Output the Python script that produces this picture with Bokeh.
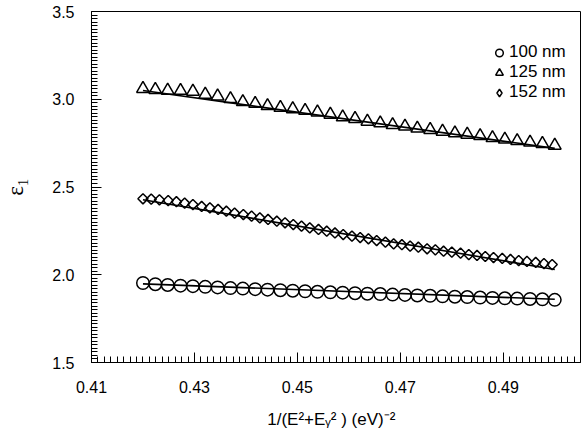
from bokeh.plotting import figure
from bokeh.models import Range1d, FixedTicker, Legend, LegendItem
from bokeh.embed import file_html
from bokeh.resources import INLINE
import numpy as np

# ---- data ----
x_34 = [0.4200, 0.4224, 0.4248, 0.4273, 0.4297, 0.4321, 0.4345, 0.4370, 0.4394, 0.4418,
        0.4442, 0.4467, 0.4491, 0.4515, 0.4539, 0.4564, 0.4588, 0.4612, 0.4636, 0.4661,
        0.4685, 0.4709, 0.4733, 0.4758, 0.4782, 0.4806, 0.4830, 0.4855, 0.4879, 0.4903,
        0.4927, 0.4952, 0.4976, 0.5000]

eps_100 = [1.953, 1.946, 1.942, 1.938, 1.935, 1.931, 1.928, 1.924, 1.921, 1.918,
           1.915, 1.912, 1.909, 1.906, 1.903, 1.900, 1.898, 1.895, 1.892, 1.890,
           1.887, 1.885, 1.882, 1.880, 1.877, 1.875, 1.873, 1.870, 1.868, 1.866,
           1.864, 1.862, 1.860, 1.857]

eps_125 = [3.060, 3.054, 3.050, 3.049, 3.044, 3.027, 3.017, 3.002, 2.985, 2.975,
           2.962, 2.952, 2.944, 2.935, 2.926, 2.913, 2.898, 2.889, 2.873, 2.864,
           2.854, 2.845, 2.834, 2.826, 2.816, 2.807, 2.799, 2.791, 2.780, 2.771,
           2.763, 2.754, 2.746, 2.736]

x_50 = [0.4200, 0.4216, 0.4232, 0.4249, 0.4265, 0.4281, 0.4297, 0.4314, 0.4330, 0.4346,
        0.4362, 0.4378, 0.4395, 0.4411, 0.4427, 0.4443, 0.4460, 0.4476, 0.4492, 0.4508,
        0.4524, 0.4541, 0.4557, 0.4573, 0.4589, 0.4606, 0.4622, 0.4638, 0.4654, 0.4671,
        0.4687, 0.4703, 0.4719, 0.4735, 0.4752, 0.4768, 0.4784, 0.4800, 0.4817, 0.4833,
        0.4849, 0.4865, 0.4881, 0.4898, 0.4914, 0.4930, 0.4946, 0.4963, 0.4979, 0.4995]

eps_152 = [2.433, 2.431, 2.427, 2.423, 2.416, 2.408, 2.400, 2.389, 2.381, 2.372,
           2.362, 2.351, 2.343, 2.334, 2.324, 2.315, 2.305, 2.296, 2.286, 2.277,
           2.267, 2.258, 2.248, 2.238, 2.229, 2.220, 2.212, 2.205, 2.195, 2.186,
           2.176, 2.171, 2.163, 2.157, 2.148, 2.142, 2.134, 2.129, 2.123, 2.115,
           2.110, 2.104, 2.098, 2.093, 2.087, 2.081, 2.076, 2.070, 2.064, 2.058]

fit_x = [0.42, 0.50]
fit_100 = [1.948, 1.860]
fit_125 = [3.050, 2.720]
fit_152 = [2.427, 2.030]

series_labels = ["100 nm", "125 nm", "152 nm"]
x_ticks = [0.41, 0.43, 0.45, 0.47, 0.49]
x_tick_labels = ["0.41", "0.43", "0.45", "0.47", "0.49"]
y_ticks = [1.5, 2.0, 2.5, 3.0, 3.5]
y_tick_labels = ["1.5", "2.0", "2.5", "3.0", "3.5"]
x_title = "1/(E\u00b2+E\u1d67\u00b2   ) (eV)\u207b\u00b2"
y_title = "\u03b5\u2081"

FONT = "Liberation Sans"

p = figure(width=581, height=437, title=None,
           x_range=Range1d(0.41, 0.505), y_range=Range1d(1.5, 3.5),
           output_backend="svg", toolbar_location=None,
           min_border_left=89, min_border_right=1, min_border_top=11, min_border_bottom=75)

p.xgrid.visible = False
p.ygrid.visible = False
p.outline_line_color = "black"
p.outline_line_width = 1
p.background_fill_color = "white"
p.border_fill_color = "white"

p.xaxis.ticker = FixedTicker(ticks=x_ticks, minor_ticks=list(np.arange(0.41, 0.5051, 0.00125)))
p.yaxis.ticker = FixedTicker(ticks=y_ticks, minor_ticks=list(np.arange(1.5, 3.5001, 0.02)))
p.xaxis.major_label_overrides = dict(zip(x_ticks, x_tick_labels))
p.yaxis.major_label_overrides = dict(zip(y_ticks, y_tick_labels))

for ax in (p.xaxis, p.yaxis):
    ax.axis_line_color = "black"
    ax.axis_line_width = 1
    ax.major_tick_in = 10
    ax.major_tick_out = 0
    ax.minor_tick_in = 6
    ax.minor_tick_out = 0
    ax.major_tick_line_color = "black"
    ax.minor_tick_line_color = "black"
    ax.major_label_text_font = FONT
    ax.major_label_text_font_size = "16px"
    ax.major_label_text_color = "black"
    ax.axis_label_text_font_style = "normal"
    ax.axis_label_text_color = "black"

p.xaxis.major_label_standoff = 18
p.yaxis.major_label_standoff = 17

p.xaxis.axis_label = x_title
p.xaxis.axis_label_text_font = FONT
p.xaxis.axis_label_text_font_size = "17px"
p.xaxis.axis_label_standoff = 14

p.yaxis.axis_label = y_title
p.yaxis.axis_label_text_font = "Liberation Serif"
p.yaxis.axis_label_text_font_size = "23px"
p.yaxis.axis_label_standoff = 21

# fit lines
for fy in (fit_100, fit_125, fit_152):
    p.line(fit_x, fy, line_color="black", line_width=1.6)

r100 = p.scatter(x_34, eps_100, marker="circle", size=12.5, fill_alpha=0,
                 line_color="black", line_width=1.5)
r125 = p.scatter(x_34, eps_125, marker="triangle", size=12.7, fill_alpha=0,
                 line_color="black", line_width=1.5)
r152 = p.scatter(x_50, eps_152, marker="square", angle=np.pi / 4, size=7.2, fill_alpha=0,
                 line_color="black", line_width=1.5)
# legend swatch for the diamonds (legend glyphs ignore marker angle)
r152_key = p.scatter([float("nan")], [float("nan")], marker="diamond", size=10,
                     fill_alpha=0, line_color="black", line_width=1.5)

legend = Legend(items=[LegendItem(label=series_labels[0], renderers=[r100]),
                       LegendItem(label=series_labels[1], renderers=[r125]),
                       LegendItem(label=series_labels[2], renderers=[r152_key])],
                location=(398, 260), padding=0, spacing=0, margin=0,
                label_height=19, glyph_height=19, glyph_width=20, label_standoff=0,
                label_text_font=FONT, label_text_font_size="17px",
                label_text_color="black",
                border_line_alpha=0, background_fill_alpha=0)
p.add_layout(legend)

open("out.html", "w").write(file_html(p, INLINE))
